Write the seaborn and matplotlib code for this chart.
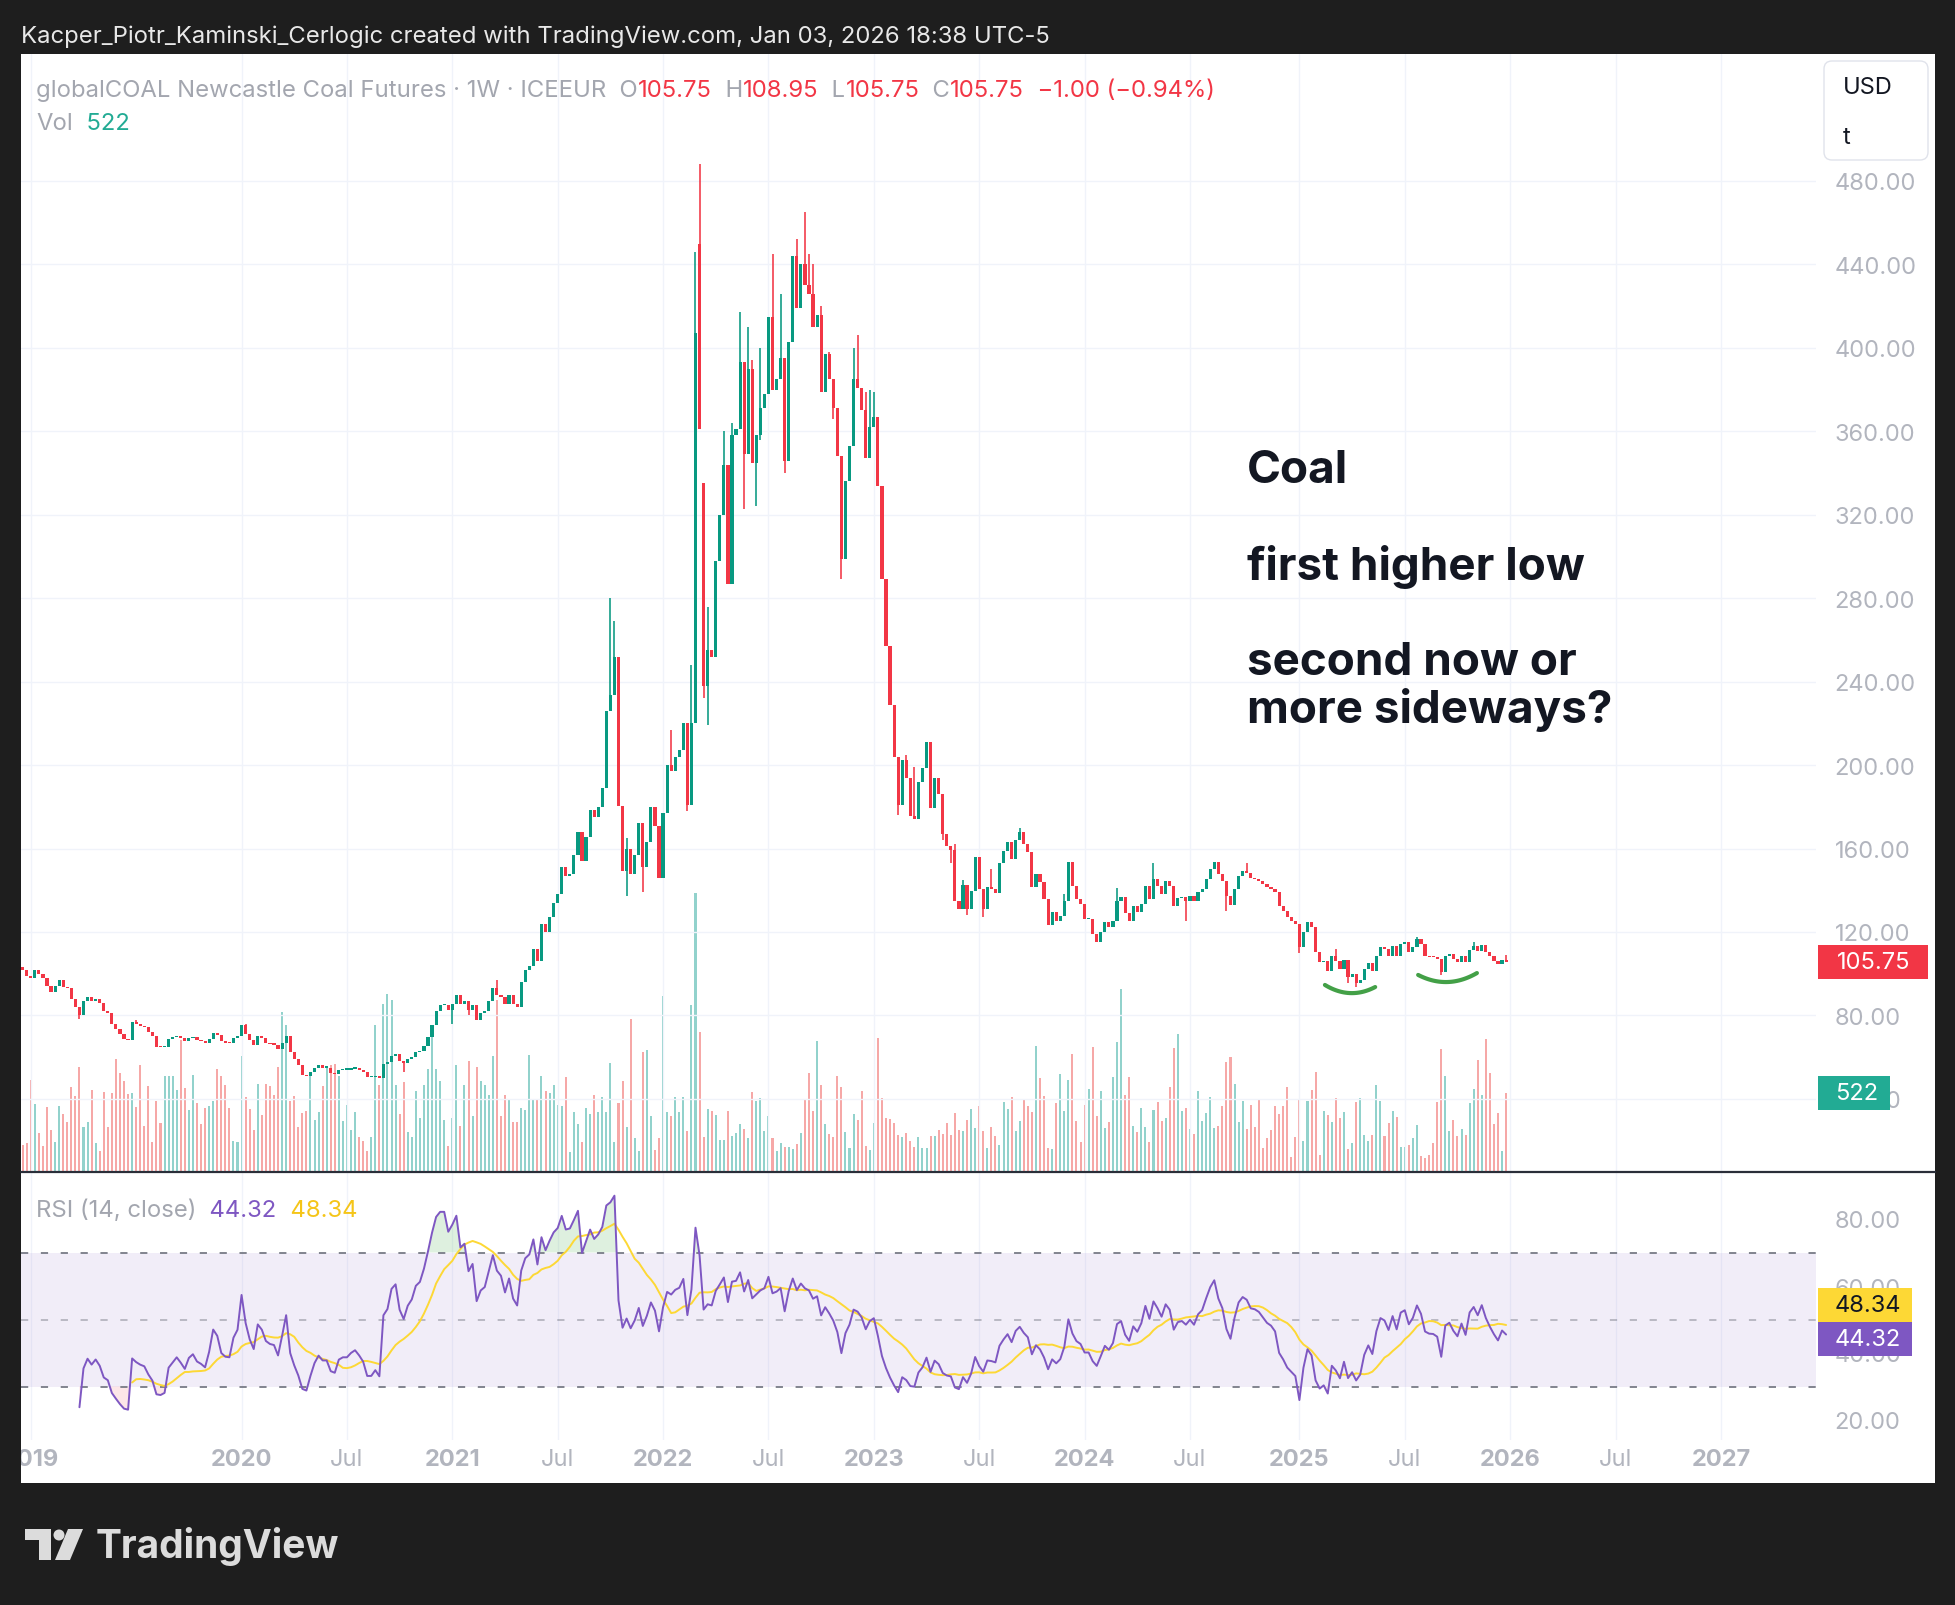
import numpy as np
import pandas as pd
import matplotlib
matplotlib.use("Agg")
import matplotlib.pyplot as plt
import seaborn as sns
from matplotlib.patches import Rectangle, FancyBboxPatch, Circle, Polygon

# ---- data (weekly bars, first bar = week of 2018-12-24) ----
first_week = "2018-12-24"
first_open = 103.0

closes = [
    # 2019 - 2020
    102, 99, 98, 102, 100, 98, 94, 91, 94, 97,
    93.5, 93, 88, 84, 80, 87, 89, 87, 88, 86,
    82, 81, 76, 73.5, 71, 68.8, 68.3, 77, 75.8, 75,
    74.5, 72, 70, 65, 64.7, 65, 68.7, 69.5, 70.3, 69,
    67.5, 69, 69.5, 68, 67.5, 66.8, 68.6, 71.5, 70.5, 67.5,
    66.8, 66.7, 69, 70, 75.3, 71, 68, 66, 70, 69,
    66.8, 66.2, 66, 64, 66.7, 70, 62.3, 59, 56, 51.4,
    50.8, 53, 55, 56.2, 55, 55, 52.4, 52, 53.7, 54,
    54, 54.5, 54.8, 54, 53, 50.5, 50.5, 51, 50, 56.6,
    57.5, 60.7, 61.5, 58.3, 57, 59, 60, 62.3, 63, 65.5,
    69.5, 75.3, 82.2,
    # 2021
    85, 85, 82.6, 85.6, 90, 85.6, 87, 82.7, 85, 78,
    81, 82, 87, 93, 90, 89, 85.6, 90, 85.6, 84,
    96, 101.7, 103.6, 112, 106, 123.6, 119.9, 127, 134, 138,
    151, 147, 148, 156.7, 168, 154, 165.3, 178.6, 175, 180,
    189, 226, 233.6, 251.6, 180.5, 149, 160, 148, 157, 172,
    151, 163, 180, 171, 146, 177, 200, 197, 204, 207,
    220, 181,
    # 2022
    220, 407, 361, 238, 255, 252, 298, 320, 344, 287,
    358, 361, 393, 349, 390, 345, 358, 371, 378, 415,
    380, 385, 395, 346, 403, 444, 419, 440, 430, 426,
    410, 416, 379, 397, 385, 371, 348, 299, 336, 353,
    385, 381, 370, 347, 362, 367, 334, 289, 257, 229,
    204, 181,
    # 2023
    202.4, 193.8, 175.7, 174, 191.9, 198.6, 211, 179.5, 193.8, 186.2,
    167, 161.4, 159.5, 134.8, 130.9, 142.4, 130.9, 139.5, 155.7, 140.5,
    130.9, 141.4, 140.5, 138.6, 152.9, 158.6, 163.3, 154.8, 164.3,
    167.8, 162.2, 158.2, 141.4, 147.8, 143.8, 135.8, 123.3, 129.4, 125.4,
    127.8, 135, 153.4, 142.2, 135.8, 133.4, 126.2, 126.2, 119, 115,
    # 2024
    119.8, 124.9, 122.2, 125.4, 135, 136.6, 129, 125.4, 132.3, 129.4,
    133.4, 142.2, 136, 145.4, 142.2, 138.2, 144.6, 142.2, 132.6, 136.1,
    136.6, 135, 137, 135, 139, 140.6, 145.4, 150.2, 153.4, 147.8,
    144.6, 137, 133, 140.6, 147, 149.4, 148.5, 145.7, 145.4, 144.6,
    143, 141.4, 140.6, 139, 132.3, 130, 127, 125.4, 123.8, 112.6,
    119.8, 124.6,
    # 2025
    122.2, 110.3, 105.5, 106.3, 101.5, 108.7, 106.3, 102.3, 106.7, 98.3,
    99.9, 95.5, 97, 102.3, 105, 101.5, 108.3, 112.7, 111.9, 108.7,
    113.1, 108.7, 114.2, 115, 110.6, 112.6, 116.6, 114.2, 108.7, 108,
    107.9, 107.1, 100.7, 108.7, 109.5, 107.1, 105.5, 108.7, 105.5, 111.5,
    113.1, 111, 113.8, 110.6, 108.3, 106.3, 104.6, 106.75, 105.75,
]

gap_opens = {167: 450, 168: 335}

wick_highs = {28: 78, 55: 76, 117: 97, 145: 280, 146: 269, 149: 165, 160: 217,
              165: 248, 166: 446, 167: 488, 169: 276, 173: 360, 175: 364, 177: 417,
              179: 410, 180: 394, 182: 400, 185: 445, 187: 426, 191: 452, 193: 465,
              194: 445, 195: 440, 197: 420, 199: 398, 205: 400, 206: 406, 208: 379,
              209: 380, 210: 379, 218: 205, 220: 199, 230: 162, 232: 145, 239: 150,
              246: 170, 257: 138, 270: 141, 279: 153, 302: 153, 324: 112, 344: 117.5,
              358: 115, 366: 108.95}

wick_lows = {14: 78.5, 94: 52.7, 106: 76, 110: 80, 149: 137, 153: 139, 164: 178,
             168: 232, 169: 219, 178: 323, 181: 324, 182: 356, 188: 340, 200: 366,
             202: 289, 216: 176, 227: 164, 229: 153, 233: 128, 237: 127, 287: 125.4,
             297: 130, 315: 110, 327: 95.5, 329: 93.5, 350: 99.5}

volumes = [
    172, 187, 611, 451, 254, 165, 428, 277, 194, 433,
    379, 326, 562, 500, 696, 294, 326, 540, 187, 134,
    529, 294, 522, 750, 656, 602, 513, 522, 428, 707,
    299, 567, 194, 466, 321, 634, 634, 634, 540, 875,
    556, 406, 640, 455, 317, 422, 435, 466, 683, 634,
    573, 422, 199, 192, 767, 495, 415, 272, 580, 377,
    585, 567, 506, 696, 1064, 975, 466, 500, 294, 388,
    399, 634, 339, 395, 567, 696, 707, 718, 634, 332,
    440, 272, 395, 228, 199, 134, 228, 975, 573, 1120,
    1182, 1142, 573, 384, 596, 259, 228, 533, 355, 573,
    685, 930, 685,
    604, 339, 167, 352, 710, 299, 577, 736, 366, 697,
    604, 577, 511, 768, 1147, 366, 511, 472, 326, 326,
    419, 405, 776, 485, 472, 636, 538, 525, 577, 445,
    432, 630, 127, 397, 313, 193, 419, 379, 511, 392,
    498, 392, 723, 193, 458, 604, 297, 1015, 220, 132,
    795, 808, 366, 140, 220, 1174, 397, 366, 498, 392,
    498, 265,
    1111, 1862, 932, 230, 417, 402, 375, 207, 207, 404,
    234, 254, 315, 281, 221, 529, 469, 489, 268, 368,
    221, 134, 187, 161, 161, 147, 181, 254, 482, 656,
    402, 870, 576, 315, 248, 228, 636, 562, 261, 154,
    381, 341, 535, 167, 141, 321, 890, 489, 355, 348,
    321, 241, 228, 254, 201, 161, 228, 154, 154, 234,
    234, 274, 248, 321,
    239, 390, 272, 265, 339, 413, 286, 435, 265, 152,
    292, 232, 172, 460, 415, 493, 265, 332, 480, 435,
    393, 834, 620, 502, 152, 145, 453, 647, 399, 607,
    781, 332, 192, 442, 547, 828, 368, 533, 286, 326,
    627, 861, 1216, 506, 627, 299, 259, 419, 292, 192,
    406, 460, 332, 352, 560, 821, 915, 399, 419, 279,
    245, 533, 332, 386, 493, 286, 299, 433, 727, 761,
    580, 326, 466, 279, 440, 292, 473, 152, 219, 272,
    433,
    379, 435, 562, 94, 228, 482, 201, 469, 542, 663,
    107, 402, 375, 328, 489, 355, 395, 147, 187, 462,
    489, 241, 201, 241, 576, 469, 234, 321, 402, 361,
    161, 161, 174, 221, 308, 100, 87, 107, 187, 462,
    817, 636, 268, 341, 234, 281, 241, 455, 549, 743,
    509, 883, 656, 315, 388, 134, 522,
]

# header / legend values as shown on the chart
hdr_o, hdr_h, hdr_l, hdr_c, hdr_chg, hdr_pct = 105.75, 108.95, 105.75, 105.75, -1.00, -0.94
last_vol = 522
rsi_last, rsi_ma_last = 44.32, 48.34

price_ticks = list(range(40, 481, 40))
rsi_ticks = [20, 40, 60, 80]

# hand-drawn "higher low" marks: (bar_start, bar_end, price_start, price_mid, price_end)
low_marks = [(321.3, 333.7, 94.6, 90.7, 93.6), (344.3, 358.8, 99.4, 96.0, 100.3)]

assert len(closes) == len(volumes), (len(closes), len(volumes))

# ---- derived series ----
n = len(closes)
bars = np.arange(n)
c = np.array(closes, dtype=float)
o = np.r_[first_open, c[:-1]]
for k, v in gap_opens.items():
    o[k] = v
hi = np.maximum(o, c)
lo = np.minimum(o, c)
for k, v in wick_highs.items():
    hi[k] = max(hi[k], v)
for k, v in wick_lows.items():
    lo[k] = min(lo[k], v)

up = c >= o
UP, DN = "#089981", "#f23645"
cols = np.where(up, UP, DN)
vcols = np.where(up, "#26a69a80", "#ef535080")

# RSI(14), Wilder smoothing seeded with the first 14-bar average, plus its 14-bar SMA
diff = np.diff(c)
gains = np.clip(diff, 0, None)
losses = np.clip(-diff, 0, None)
rsi = np.full(n, np.nan)
ag, al = gains[:14].mean(), losses[:14].mean()
rsi[14] = 100 - 100 / (1 + ag / al)
for i in range(15, n):
    ag = (ag * 13 + gains[i - 1]) / 14
    al = (al * 13 + losses[i - 1]) / 14
    rsi[i] = 100 - 100 / (1 + ag / al)
rsi_ma = pd.Series(rsi).rolling(14).mean().values

dates = pd.date_range(first_week, periods=460, freq="7D")
xt, xl, xb = [], [], []
for yr in range(2019, 2028):
    idx = int(np.argmax(dates.year == yr))
    xt.append(idx); xl.append(str(yr)); xb.append(True)
    if 2020 <= yr <= 2026:
        j = int(np.argmax((dates.year == yr) & (dates.month == 7)))
        xt.append(j); xl.append("Jul"); xb.append(False)

# ---- figure ----
sns.set_style("white")
plt.rcParams["font.family"] = ["Inter", "DejaVu Sans"]

W, H = 1956, 1606
fig = plt.figure(figsize=(W / 100, H / 100), dpi=100, facecolor="#1e1e1e")

bg = fig.add_axes([0, 0, 1, 1], zorder=-10)
bg.set_xlim(0, W); bg.set_ylim(H, 0); bg.axis("off")
bg.add_patch(Rectangle((21, 55), 1935 - 21, 1484 - 55, color="white", lw=0))

X0, X1 = 21, 1816
px_per_bar = 4.053
xlim = ((X0 - 22.7) / px_per_bar, (X1 - 22.7) / px_per_bar)

ax_vol = fig.add_axes([X0 / W, 1 - 1172 / H, (X1 - X0) / W, (1172 - 55) / H], zorder=1)
ax = fig.add_axes([X0 / W, 1 - 1172 / H, (X1 - X0) / W, (1172 - 55) / H], zorder=2)
ax_rsi = fig.add_axes([X0 / W, 1 - 1441 / H, (X1 - X0) / W, (1441 - 1173) / H], zorder=2)

GRID = "#f0f3fa"
TICK = "#b2b5be"

# volume
ax_vol.bar(bars, volumes, width=0.5, color=vcols, linewidth=0)
ax_vol.set_ylim(0, (1172 - 55) / (78 / 522))
ax_vol.set_xlim(*xlim)
ax_vol.axis("off")

# candles
ax.patch.set_visible(False)
ax.vlines(bars, lo, hi, colors=cols, lw=1.15, zorder=3)
ax.bar(bars, np.maximum(np.abs(c - o), 0.6), bottom=np.minimum(o, c), width=0.78,
       color=cols, linewidth=0, zorder=3)
ax.set_xlim(*xlim)
ax.set_ylim(480 - (1172 - 182) / 2.086, 480 + (182 - 55) / 2.086)
ax.yaxis.tick_right()
ax.set_yticks(price_ticks)
ax.set_yticklabels([f"{t:.2f}" for t in price_ticks])
ax.tick_params(axis="y", length=0, pad=13.5, labelsize=17, labelcolor=TICK)
ax.set_xticks(xt)
ax.tick_params(axis="x", length=0, labelbottom=False)
ax.grid(True, color=GRID, lw=1)
for sp in ax.spines.values():
    sp.set_visible(False)

# higher-low marks
for b0, b1, p0, pm, p1 in low_marks:
    t = np.linspace(0, 1, 40)
    bm = (b0 + b1) / 2
    cp = 2 * pm - (p0 + p1) / 2
    xs = (1 - t) ** 2 * b0 + 2 * t * (1 - t) * bm + t ** 2 * b1
    ys = (1 - t) ** 2 * p0 + 2 * t * (1 - t) * cp + t ** 2 * p1
    ax.plot(xs, ys, color="#43a047", lw=3, solid_capstyle="round", zorder=4)

# annotation text
ann = dict(color="#131722", fontsize=33, fontweight="bold", va="center", ha="left")
ax.text(302, 341.3, "Coal", **ann)
ax.text(302, 295.5, "first higher low", **ann)
ax.text(302, 249.5, "second now or", **ann)
ax.text(302, 227, "more sideways?", **ann)

# RSI panel
ax_rsi.set_facecolor("none")
ax_rsi.axhspan(30, 70, color="#7e57c2", alpha=0.1, lw=0)
ax_rsi.axhline(70, color="#787b86", lw=1.3, dashes=(4, 7))
ax_rsi.axhline(50, color="#787b86", lw=1.3, dashes=(4, 7), alpha=0.5)
ax_rsi.axhline(30, color="#787b86", lw=1.3, dashes=(4, 7))
ax_rsi.fill_between(bars, rsi, 70, where=rsi > 70, interpolate=True, color="#4caf50", alpha=0.18, lw=0)
ax_rsi.fill_between(bars, rsi, 30, where=rsi < 30, interpolate=True, color="#f23645", alpha=0.12, lw=0)
sns.lineplot(x=bars, y=rsi_ma, ax=ax_rsi, color="#fdd835", lw=1.4, legend=False,
             estimator=None, sort=False)
sns.lineplot(x=bars, y=rsi, ax=ax_rsi, color="#7e57c2", lw=1.4, legend=False,
             estimator=None, sort=False)
ax_rsi.set_xlim(*xlim)
ax_rsi.set_ylim(20 - (1441 - 1421) / 3.35, 80 + (1220 - 1173) / 3.35)
ax_rsi.yaxis.tick_right()
ax_rsi.set_yticks(rsi_ticks)
ax_rsi.set_yticklabels([f"{t:.2f}" for t in rsi_ticks])
ax_rsi.tick_params(axis="y", length=0, pad=13.5, labelsize=17, labelcolor=TICK)
ax_rsi.set_xticks(xt)
ax_rsi.set_xticklabels(xl)
ax_rsi.tick_params(axis="x", length=0, pad=6, labelsize=17, labelcolor=TICK)
for lab, bold in zip(ax_rsi.get_xticklabels(), xb):
    lab.set_fontweight("bold" if bold else "normal")
ax_rsi.set_xlabel(""); ax_rsi.set_ylabel("")
ax_rsi.grid(True, axis="x", color=GRID, lw=1)
for sp in ax_rsi.spines.values():
    sp.set_visible(False)

# ---- overlay (pixel coordinates, origin top-left) ----
ov = fig.add_axes([0, 0, 1, 1], zorder=10)
ov.set_xlim(0, W); ov.set_ylim(H, 0); ov.axis("off")
ov.patch.set_visible(False)
ov.add_patch(Rectangle((0, 55), 21, 1430, color="#1e1e1e", lw=0))
ov.plot([21, 1935], [1172.5, 1172.5], color="#2a2e39", lw=1.6)

renderer = fig.canvas.get_renderer()


def chain(x, y, parts, size):
    for txt, col in parts:
        t = ov.text(x, y, txt, color=col, fontsize=size, va="center", ha="left")
        x += t.get_window_extent(renderer).width


def py_of(axis, val):
    return H - axis.transData.transform((0, val))[1]


ov.text(21, 37, "Kacper_Piotr_Kaminski_Cerlogic created with TradingView.com, Jan 03, 2026 18:38 UTC-5",
        color="#e8e8e8", fontsize=17.2, va="center", ha="left")

GREY = "#a3a6af"
RED = "#f23645"
chain(36, 91, [("globalCOAL Newcastle Coal Futures · 1W · ICEEUR", GREY),
               ("  O", GREY), (f"{hdr_o:.2f}", RED),
               ("  H", GREY), (f"{hdr_h:.2f}", RED),
               ("  L", GREY), (f"{hdr_l:.2f}", RED),
               ("  C", GREY), (f"{hdr_c:.2f}", RED),
               (f"  {hdr_chg:.2f} ({hdr_pct:.2f}%)".replace("-", "\u2212"), RED)], 17.2)
chain(36, 124, [("Vol", GREY), ("  " + str(last_vol), "#22ab94")], 17.2)
chain(36, 1211, [("RSI (14, close)", GREY), ("  " + f"{rsi_last:.2f}", "#7e57c2"),
                 ("  " + f"{rsi_ma_last:.2f}", "#f5c518")], 17.2)

# USD / unit box
ov.add_patch(FancyBboxPatch((1824, 62), 104, 99, boxstyle="round,pad=0,rounding_size=8",
                            facecolor="white", edgecolor="#e0e3eb", lw=1))
ov.text(1843, 88, "USD", color="#131722", fontsize=17, va="center", ha="left")
ov.text(1843, 138, "t", color="#131722", fontsize=17, va="center", ha="left")

# last price / volume / RSI value boxes
yp = py_of(ax, hdr_c)
ov.add_patch(Rectangle((1818, yp - 17), 110, 34, color=RED, lw=0))
ov.text(1837, yp, f"{hdr_c:.2f}", color="white", fontsize=17, va="center", ha="left")
yv = py_of(ax_vol, last_vol)
ov.add_patch(Rectangle((1818, yv - 17), 72, 34, color="#22ab94", lw=0))
ov.text(1835, yv, str(last_vol), color="white", fontsize=17, va="center", ha="left")
yr_ = py_of(ax_rsi, rsi_last)
ov.add_patch(Rectangle((1818, yr_ - 17), 94, 34, color="#7e57c2", lw=0))
ov.text(1835, yr_, f"{rsi_last:.2f}", color="white", fontsize=17, va="center", ha="left")
ov.add_patch(Rectangle((1818, yr_ - 51), 94, 34, color="#fdd835", lw=0))
ov.text(1835, yr_ - 34, f"{rsi_ma_last:.2f}", color="#131722", fontsize=17, va="center", ha="left")

# TradingView logo
LOGO = "#dcdcdc"
ov.add_patch(Polygon([(25, 1530), (51, 1530), (51, 1561), (39, 1561), (39, 1541), (25, 1541)],
                     closed=True, color=LOGO, lw=0))
ov.add_patch(Circle((59, 1536), 5.5, color=LOGO, lw=0))
ov.add_patch(Polygon([(68, 1530), (83, 1530), (70, 1561), (55, 1561)], closed=True, color=LOGO, lw=0))
ov.text(96, 1547, "TradingView", color=LOGO, fontsize=28, fontweight="bold", va="center", ha="left")

fig.savefig("out.png", dpi=100, facecolor=fig.get_facecolor())
